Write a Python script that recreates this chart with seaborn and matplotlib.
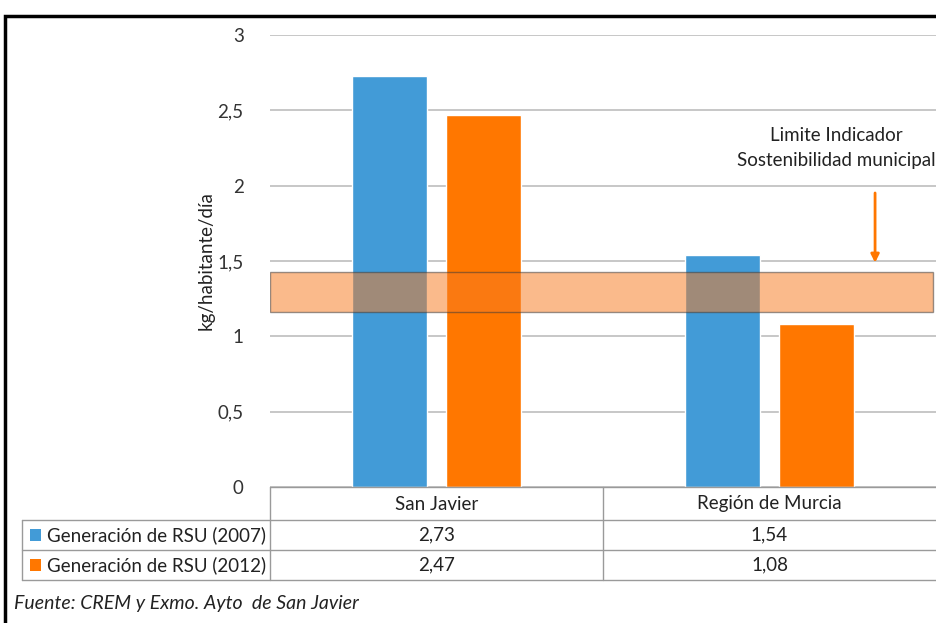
import matplotlib
matplotlib.use("Agg")
import matplotlib.pyplot as plt
import matplotlib.ticker as ticker
from matplotlib.patches import Rectangle
from matplotlib.lines import Line2D
import seaborn as sns
import pandas as pd

# Datos
zonas = ["San Javier", "Región de Murcia"]
series = ["Generación de RSU (2007)", "Generación de RSU (2012)"]
valores_2007 = [2.73, 1.54]
valores_2012 = [2.47, 1.08]
limite_bajo = 1.16
limite_alto = 1.43
colores = ["#429BD7", "#FF7700"]

df = pd.DataFrame({
    "zona": zonas * 2,
    "serie": [series[0]] * 2 + [series[1]] * 2,
    "valor": valores_2007 + valores_2012,
})

sns.set_style("white")
plt.rcParams["font.family"] = ["Lato", "DejaVu Sans"]

FS = 13.5
W, H = 936, 623
fig = plt.figure(figsize=(W / 100, H / 100), dpi=100)
ax = fig.add_axes([270 / W, 1 - 487 / H, 666 / W, (487 - 35) / H])

sns.barplot(data=df, x="zona", y="valor", hue="serie", palette=colores,
            width=0.564, gap=0.2, saturation=1, ax=ax, legend=False, zorder=2)

ax.set_xlim(-0.5, 1.5)
ax.set_ylim(0, 3)
ax.set_yticks([0, 0.5, 1, 1.5, 2, 2.5, 3])
ax.yaxis.set_major_formatter(ticker.FuncFormatter(lambda v, _: f"{v:g}".replace(".", ",")))
ax.tick_params(axis="y", length=0, pad=19, labelsize=FS, labelcolor="#333333")
ax.set_xticks([])
ax.set_xlabel("")
ax.set_ylabel("kg/habitante/día", fontsize=FS, color="#222222", labelpad=2)
for s in ax.spines.values():
    s.set_visible(False)
ax.grid(axis="y", color="#BDBDBD", linewidth=1.2, zorder=0)
ax.set_axisbelow(True)

# Banda del límite
ax.add_patch(Rectangle((0, limite_bajo), 0.996, limite_alto - limite_bajo,
                       transform=ax.get_yaxis_transform(), facecolor="#F77C22",
                       alpha=0.52, edgecolor="#3a3a3a", linewidth=1, zorder=3))

ax.annotate("", xy=(1.317, 1.47), xytext=(1.317, 1.97),
            arrowprops=dict(arrowstyle="-|>", color="#FF7700", lw=2, mutation_scale=12))
ax.text(1.2, 2.25, "Limite Indicador\nSostenibilidad municipal", ha="center", va="center",
        fontsize=FS, color="#222222", linespacing=1.6)

# Tabla de datos
def fx(px):
    return px / W

def fy(py):
    return 1 - py / H

gris = "#9A9A9A"
lineas = [
    ((270, 936), (487, 487)),
    ((22, 936), (520, 520)),
    ((22, 936), (550, 550)),
    ((22, 936), (580, 580)),
    ((22, 22), (520, 580)),
    ((270, 270), (487, 580)),
    ((603, 603), (487, 580)),
]
for (x0, x1), (y0, y1) in lineas:
    fig.add_artist(Line2D([fx(x0), fx(x1)], [fy(y0), fy(y1)], color=gris, lw=1))

centros = [436.5, 769.5]
for c, z in zip(centros, zonas):
    fig.text(fx(c), fy(504), z, ha="center", va="center", fontsize=FS, color="#222222")

filas_y = [535, 565]
for fila, (nombre, vals, col) in enumerate(zip(series, [valores_2007, valores_2012], colores)):
    y = filas_y[fila]
    fig.add_artist(Rectangle((fx(30), fy(y + 6)), 11 / W, 12 / H, facecolor=col,
                             edgecolor="none"))
    fig.text(fx(47), fy(y), nombre, ha="left", va="center", fontsize=FS, color="#222222")
    for c, v in zip(centros, vals):
        fig.text(fx(c), fy(y), f"{v:.2f}".replace(".", ","), ha="center", va="center",
                 fontsize=FS, color="#222222")

fig.text(fx(14), fy(604), "Fuente: CREM y Exmo. Ayto  de San Javier", ha="left",
         va="center", fontsize=14, style="italic", color="#222222")

# Marco exterior
fig.add_artist(Rectangle((fx(5), -0.1), 1.2, fy(16) + 0.1, fill=False,
                         edgecolor="black", linewidth=2.5))

fig.savefig("out.png", dpi=100)
